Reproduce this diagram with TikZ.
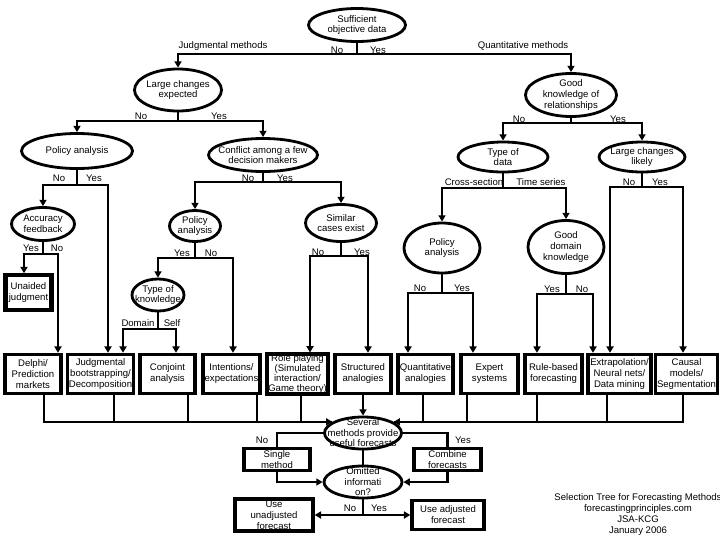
\documentclass[tikz,border=0pt]{standalone}
\usepackage{fontspec}
\setmainfont{Liberation Sans}
\usetikzlibrary{shapes.geometric, arrows.meta, calc}
\newcommand{\treefont}{\fontsize{6.8}{7.8}\selectfont}

\begin{document}
\begin{tikzpicture}[x=.025cm, y=-.025cm,
		decision/.style={ellipse, draw, line width=2pt, inner sep=0pt},
		method/.style={rectangle, draw, line width=2.4pt, inner sep=1pt, align=center, font=\treefont},
		conn/.style={line width=1.5pt},
		arr/.style={conn, -{Triangle[width=5pt, length=4.5pt]}},
		lbl/.style={inner sep=0pt, font=\treefont},
		every label/.style={inner sep=0pt, align=center, font=\fontsize{6.8}{7.5}\selectfont}]
	\useasboundingbox(0, 0) rectangle (720, 540);

	\node[decision, minimum width=2.425cm, minimum height=.825cm, label=center:{Sufficient\\objective data}](sod) at(357, 25){};
		\node[lbl](jmlbl) at(223, 46){Judgmental methods};
		\node[lbl](qmlbl) at(523, 46){Quantitative methods};
		\node[lbl](sodno) at(337, 50){No};
		\node[lbl](sodyes) at(378, 50){Yes};
	\node[decision, minimum width=2.175cm, minimum height=1.05cm, label=center:{Large changes\\expected}](lce) at(178, 90){};
		\node[lbl](lceno) at(141, 116){No};
		\node[lbl](lceyes) at(219, 116){Yes};
	\node[decision, minimum width=2.275cm, minimum height=1.075cm, label=center:{Good\\knowledge of\\relationships}](gkr) at(571, 95){};
		\node[lbl](gkrno) at(519, 119){No};
		\node[lbl](gkryes) at(618, 119){Yes};
	\node[decision, minimum width=2.775cm, minimum height=.875cm, label=center:{Policy analysis}](pa1) at(77, 151){};
		\node[lbl](pa1no) at(59, 178){No};
		\node[lbl](pa1yes) at(94, 178){Yes};
	\node[decision, minimum width=1.575cm, minimum height=.825cm, label=center:{Accuracy\\feedback}](af) at(43, 224){};
		\node[lbl](afyes) at(31, 248){Yes};
		\node[lbl](afno) at(57, 248){No};
	\node[decision, minimum width=2.725cm, minimum height=.825cm, label=center:{Conflict among a few\\decision makers}](cdm) at(263, 155){};
		\node[lbl](cdmno) at(248, 178){No};
		\node[lbl](cdmyes) at(285, 178){Yes};
	\node[decision, minimum width=1.275cm, minimum height=.775cm, label=center:{Policy\\analysis}](pa2) at(195, 226){};
		\node[lbl](pa2yes) at(182, 253){Yes};
		\node[lbl](pa2no) at(211, 253){No};
	\node[decision, minimum width=1.3cm, minimum height=.8cm, label=center:{Type of\\knowledge}](tok) at(158, 295){};
		\node[lbl](tokdom) at(138, 323){Domain};
		\node[lbl](tokself) at(172, 323){Self};
	\node[decision, minimum width=1.775cm, minimum height=.925cm, label=center:{Similar\\cases exist}](sce) at(341, 223){};
		\node[lbl](sceno) at(318, 252){No};
		\node[lbl](sceyes) at(362, 252){Yes};
	\node[decision, minimum width=2.25cm, minimum height=.75cm, label=center:{Type of\\data}](tod) at(503, 157){};
		\node[lbl](todcross) at(474, 182){Cross-section};
		\node[lbl](todtime) at(541, 182){Time series};
	\node[decision, minimum width=1.9cm, minimum height=1.25cm, label=center:{Policy\\analysis}](pa3) at(442, 248){};
		\node[lbl](pa3no) at(420, 288){No};
		\node[lbl](pa3yes) at(462, 288){Yes};
	\node[decision, minimum width=1.9cm, minimum height=1.325cm, label=center:{Good\\domain\\knowledge}](gdk) at(566, 247){};
		\node[lbl](gdkyes) at(552, 289){Yes};
		\node[lbl](gdkno) at(582, 289){No};
	\node[decision, minimum width=2.15cm, minimum height=.75cm, label=center:{Large changes\\likely}](lcl) at(642, 157){};
		\node[lbl](lclno) at(629, 182){No};
		\node[lbl](lclyes) at(660, 182){Yes};

	\node[method, line width=3pt, inner xsep=0pt, minimum width=1.15cm, minimum height=.86cm](uj) at(28.5, 292.5){Unaided\\judgment};

	\node[method, minimum width=1.4cm, minimum height=.975cm](dp) at(33, 374){Delphi/\\Prediction\\markets};
	\node[method, minimum width=1.625cm, minimum height=.975cm](jb) at(100.5, 374){Judgmental\\bootstrapping/\\Decomposition};
	\node[method, minimum width=1.375cm, minimum height=.975cm](ca) at(167.5, 374){Conjoint\\analysis};
	\node[method, minimum width=1.425cm, minimum height=.975cm](ie) at(231.5, 374){Intentions/\\expectations};
	\node[method, minimum width=1.525cm, minimum height=.975cm, inner ysep=0pt, font=\fontsize{6.8}{7.3}\selectfont](rp) at(297.5, 374){Role playing\\(Simulated\\interaction/\\Game theory)};
	\node[method, minimum width=1.4cm, minimum height=.975cm](sa) at(363, 374){Structured\\analogies};
	\node[method, minimum width=1.375cm, minimum height=.975cm](qa) at(425.5, 374){Quantitative\\analogies};
	\node[method, minimum width=1.425cm, minimum height=.975cm](es) at(489.5, 374){Expert\\systems};
	\node[method, minimum width=1.425cm, minimum height=.975cm](rbf) at(553.5, 374){Rule-based\\forecasting};
	\node[method, minimum width=1.575cm, minimum height=.975cm](ext) at(619.5, 374){Extrapolation/\\Neural nets/\\Data mining};
	\node[method, minimum width=1.425cm, minimum height=.975cm](cm) at(686.5, 374){Causal\\models/\\Segmentation};

	\node[decision, minimum width=1.925cm, minimum height=.8cm, label=center:{Several\\methods provide\\useful forecasts}](sev) at(363, 433){};
		\node[lbl](sevno) at(262, 440){No};
		\node[lbl](sevyes) at(463, 440){Yes};
	\node[method, minimum width=1.65cm, minimum height=.56cm, inner ysep=0pt](sm) at(277, 459.5){Single\\method};
	\node[method, minimum width=1.675cm, minimum height=.56cm, inner ysep=0pt](cf) at(447.5, 459.5){Combine\\forecasts};
	\node[decision, minimum width=1.95cm, minimum height=.8cm, label=center:{Omitted\\informati\\on?}](omi) at(363, 482){};
		\node[lbl](omino) at(350, 508){No};
		\node[lbl](omiyes) at(379, 508){Yes};
	\node[method, minimum width=1.95cm, minimum height=.8cm, inner ysep=0pt](uu) at(274, 515){Use\\unadjusted\\forecast};
	\node[method, minimum width=1.8cm, minimum height=.72cm, inner ysep=0pt](ua) at(448, 515){Use adjusted\\forecast};

	\node[lbl, align=center](credit) at(638, 514.5){Selection Tree for Forecasting Methods\\forecastingprinciples.com\\JSA-KCG\\January 2006};

	\coordinate(sodfork) at(357, 54);
		\draw[conn](sod.south) to (sodfork);
		\draw[arr](sodfork) -| (lce.north);
		\draw[arr](sodfork) -| (gkr.north);
	\coordinate(lcefork) at(178, 121);
		\draw[conn](lce.south) to (lcefork);
		\draw[arr](lcefork) -| (pa1.north);
		\draw[arr](lcefork) -| (cdm.north);
	\coordinate(gkrfork) at(571, 123);
		\draw[conn](gkr.south) to (gkrfork);
		\draw[arr](gkrfork) -| (tod.north);
		\draw[arr](gkrfork) -| (lcl.north);
	\coordinate(pa1fork) at(77, 185);
		\draw[conn](pa1.south) to (pa1fork);
		\draw[arr](pa1fork) -| (af.north);
		\draw[arr](pa1fork) -| ($(jb.north)+(7.5, 0)$);
	\coordinate(affork) at(43, 254);
		\draw[conn](af.south) to (affork);
		\draw[arr](affork) -| ($(uj.north)+(-4.5, 0)$);
		\draw[arr](affork) -| ($(dp.north)+(25, 0)$);
	\coordinate(cdmfork) at(263, 182);
		\draw[conn](cdm.south) to (cdmfork);
		\draw[arr](cdmfork) -| (pa2.north);
		\draw[arr](cdmfork) -| (sce.north);
	\coordinate(pa2fork) at(195, 258);
		\draw[conn](pa2.south) to (pa2fork);
		\draw[arr](pa2fork) -| (tok.north);
		\draw[arr](pa2fork) -| ($(ie.north)+(1.5, 0)$);
	\coordinate(tokfork) at(158, 329);
		\draw[conn](tok.south) to (tokfork);
		\draw[arr](tokfork) -| ($(jb.north)+(22.5, 0)$);
		\draw[arr](tokfork) -| ($(ca.north)+(8.5, 0)$);
	\coordinate(scefork) at(341, 256);
		\draw[conn](sce.south) to (scefork);
		\draw[arr](scefork) -| ($(rp.north)+(12.5, 0)$);
		\draw[arr](scefork) -| ($(sa.north)+(5, 0)$);
	\coordinate(todfork) at(503, 188);
		\draw[conn](tod.south) to (todfork);
		\draw[arr](todfork) -| (pa3.north);
		\draw[arr](todfork) -| (gdk.north);
	\coordinate(pa3fork) at(442, 293);
		\draw[conn](pa3.south) to (pa3fork);
		\draw[arr](pa3fork) -| ($(qa.north)+(-17.5, 0)$);
		\draw[arr](pa3fork) -| ($(es.north)+(-16.5, 0)$);
	\coordinate(gdkfork) at(566, 294);
		\draw[conn](gdk.south) to (gdkfork);
		\draw[arr](gdkfork) -| ($(rbf.north)+(-16.5, 0)$);
		\draw[arr](gdkfork) -| ($(ext.north)+(-26.5, 0)$);
	\coordinate(lclfork) at(642, 187);
		\draw[conn](lcl.south) to (lclfork);
		\draw[arr](lclfork) -| ($(ext.north)+(-9.5, 0)$);
		\draw[arr](lclfork) -| ($(cm.north)+(-3.5, 0)$);

	\draw[conn]($(jb.south)+(13.8, 0)$) |- (sev.160);
	\draw[conn]($(ca.south)+(20.2, 0)$) |- (sev.160);
	\draw[conn]($(ie.south)+(25.2, 0)$) |- (sev.160);
	\draw[conn]($(rp.south)+(3.5, 0)$) |- (sev.160);
	\draw[arr]($(dp.south)+(11, 0)$) |- (sev.160);
	\draw[conn]($(qa.south)+(-2.2, 0)$) |- (sev.20);
	\draw[conn]($(es.south)+(-22.2, 0)$) |- (sev.20);
	\draw[conn]($(rbf.south)+(-16.8, 0)$) |- (sev.20);
	\draw[conn]($(ext.south)+(-12.8, 0)$) |- (sev.20);
	\draw[arr]($(cm.south)+(-3.2, 0)$) |- (sev.20);
	\draw[arr](sa.south) to (sev.north);

	\draw[conn](sev.west) -| (sm.north);
	\draw[conn](sev.east) -| (cf.north);
	\draw[arr](sm.south) |- (omi.west);
	\draw[arr](cf.south) |- (omi.east);
	\draw[conn](sev.south) to (omi.north);
	\coordinate(omifork) at(363, 515);
		\draw[conn](omi.south) to (omifork);
		\draw[arr](omifork) to (uu.east);
		\draw[arr](omifork) to (ua.west);
\end{tikzpicture}
\end{document}
